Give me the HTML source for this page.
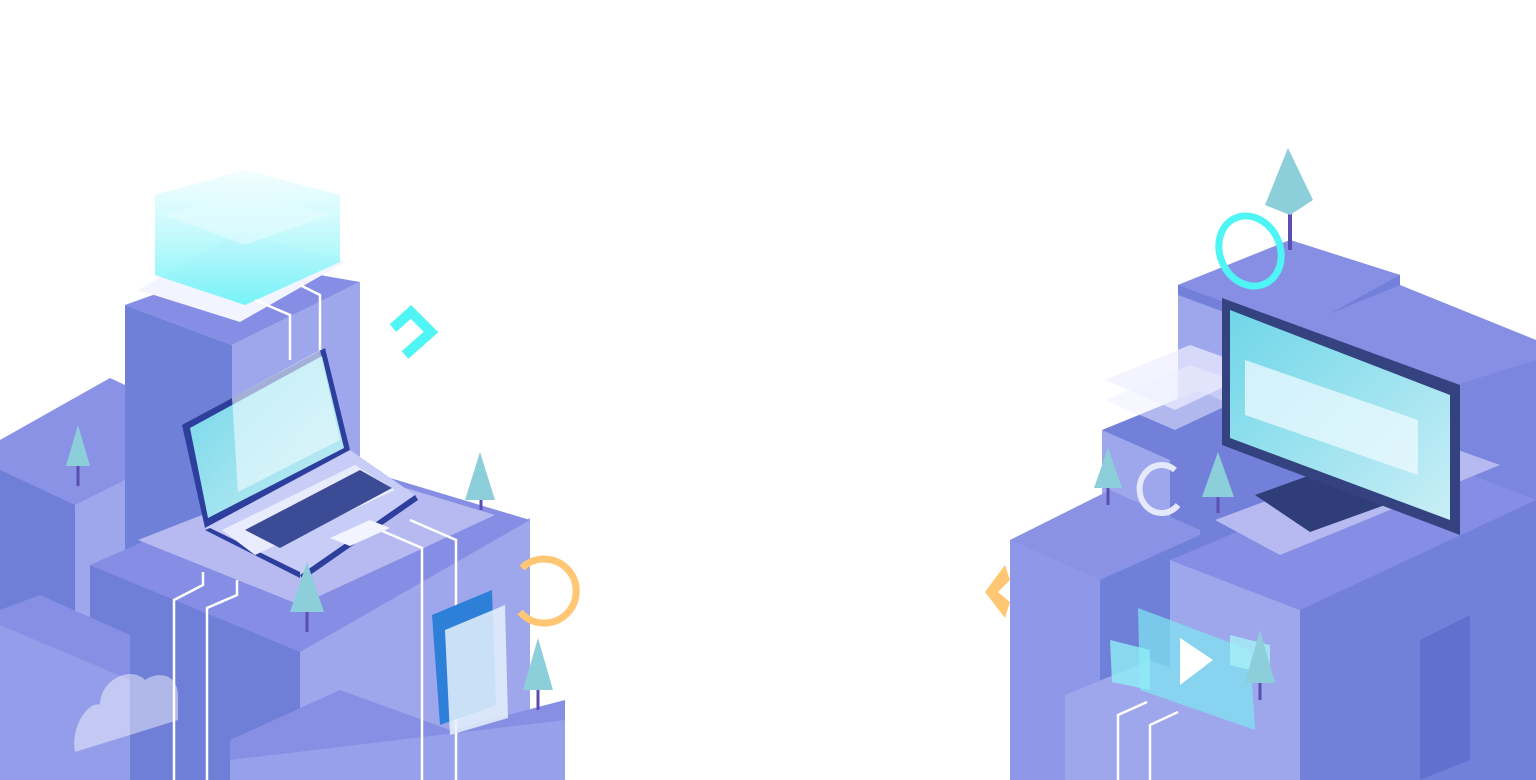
<!DOCTYPE html>
<html><head><meta charset="utf-8"><style>html,body{margin:0;padding:0;background:#fff;width:1536px;height:780px;overflow:hidden}svg{display:block}</style></head>
<body>
<svg width="1536" height="780" viewBox="0 0 1536 780" xmlns="http://www.w3.org/2000/svg">
<defs>
<linearGradient id="cy" x1="0" y1="0" x2="0" y2="1"><stop offset="0" stop-color="#e8fbff" stop-opacity=".6"/><stop offset="1" stop-color="#5ff3f6"/></linearGradient>
<linearGradient id="scr" x1="0" y1="0" x2="1" y2="1"><stop offset="0" stop-color="#6fd6e8"/><stop offset="1" stop-color="#c9eef6"/></linearGradient>
</defs>
<!-- LEFT CLUSTER -->
<polygon points="0,440 110,378 125,385 125,780 0,780" fill="#8a92e6"/>
<polygon points="0,470 75,505 75,780 0,780" fill="#6f7fd8"/>
<polygon points="75,505 125,480 125,780 75,780" fill="#9ea6ec"/>
<polygon points="125,305 232,345 232,780 125,780" fill="#6f80d8"/>
<polygon points="232,345 360,282 360,780 232,780" fill="#9ea6ec"/>
<polygon points="125,305 245,262 360,282 232,345" fill="#858ee4"/>
<polygon points="138,290 240,322 345,262 240,232" fill="#f2f4ff"/>
<polygon points="155,195 245,170 340,195 340,262 245,305 155,275" fill="url(#cy)" opacity=".85"/>
<polygon points="165,215 245,190 330,215 245,245" fill="#e6fbff" opacity=".6"/>
<!-- platform -->
<polygon points="90,565 300,650 300,780 90,780" fill="#6f7fd8"/>
<polygon points="300,650 530,518 530,780 300,780" fill="#9ea6ec"/>
<polygon points="90,565 330,460 530,520 300,652" fill="#858ee4"/>
<polygon points="138,540 330,465 495,515 300,605" fill="#b6baf0"/>
<polygon points="0,610 40,595 130,635 130,780 0,780" fill="#868fe4"/>
<polygon points="0,625 130,680 130,780 0,780" fill="#9ea6ec" opacity=".6"/>
<polygon points="230,740 340,690 450,730 565,700 565,780 230,780" fill="#868fe4"/>
<polygon points="230,760 565,720 565,780 230,780" fill="#9ea6ec" opacity=".7"/>
<path d="M75,752 C70,725 90,700 100,705 C100,680 130,665 145,680 C160,670 180,675 178,700 L178,720 Z" fill="#fff" opacity=".45"/>
<g stroke="#fff" stroke-width="2.5" fill="none">
<polyline points="174,780 174,600 203,585 203,572"/>
<polyline points="207,780 207,608 237,595 237,580"/>
<polyline points="422,780 422,548 380,530"/>
<polyline points="456,780 456,540 410,520"/>
<polyline points="290,360 290,315 255,300"/>
<polyline points="320,350 320,295 300,285"/>
</g>
<!-- laptop -->
<polygon points="182,425 325,348 350,450 205,528" fill="#2d3e9c"/>
<polygon points="190,428 322,356 344,448 208,518" fill="url(#scr)"/>
<polygon points="232,398 320,350 340,440 238,492" fill="#f2fbff" opacity=".6"/>
<polygon points="205,528 350,450 415,495 300,575" fill="#c7cdf7"/>
<polygon points="205,530 300,578 300,572 210,528" fill="#2d3e9c"/>
<polygon points="300,575 415,495 418,500 303,580" fill="#2d3e9c"/>
<polygon points="222,530 355,465 395,490 255,555" fill="#e9ecfd"/>
<polygon points="245,530 360,470 392,488 280,548" fill="#3b4b96"/>
<polygon points="330,538 370,520 390,528 350,546" fill="#f2f4ff"/>
<!-- tablet -->
<polygon points="432,615 492,590 496,705 440,725" fill="#2e7fd8"/>
<polygon points="445,630 505,605 508,718 450,735" fill="#e4f1fb" opacity=".85"/>
<path d="M522,568 A32,32 0 1 1 520,612" stroke="#ffc774" stroke-width="7" fill="none"/>
<polyline points="393,328 411,312 431,332 405,355" stroke="#4ff4f4" stroke-width="10" fill="none"/>
<g>
<line x1="78" y1="466" x2="78" y2="486" stroke="#5a4fb0" stroke-width="3"/><polygon points="78,425 66,466 90,466" fill="#8ccfdb"/>
<line x1="307" y1="610" x2="307" y2="632" stroke="#5a4fb0" stroke-width="3"/><polygon points="307,562 290,612 324,612" fill="#8ccfdb"/>
<line x1="481" y1="498" x2="481" y2="510" stroke="#5a4fb0" stroke-width="3"/><polygon points="480,452 465,500 495,500" fill="#8ccfdb"/>
<line x1="538" y1="688" x2="538" y2="710" stroke="#5a4fb0" stroke-width="3"/><polygon points="538,638 523,690 553,690" fill="#8ccfdb"/>
</g>
<!-- RIGHT CLUSTER -->
<polygon points="1178,285 1290,240 1400,275 1400,780 1178,780" fill="#7280da"/>
<polygon points="1178,285 1290,240 1400,275 1300,330" fill="#878fe4"/>
<polygon points="1178,295 1300,340 1300,420 1178,420" fill="#9ea6ec"/>
<polygon points="1400,300 1536,345 1536,780 1400,780" fill="#7b86de"/>
<polygon points="1290,330 1400,285 1536,340 1536,360 1440,390" fill="#878fe4"/>
<polygon points="1102,430 1200,390 1240,410 1240,780 1102,780" fill="#7280da"/>
<polygon points="1102,430 1170,460 1170,520 1102,520" fill="#9ea6ec"/>
<polygon points="1010,540 1110,490 1200,530 1200,780 1010,780" fill="#8a92e6"/>
<polygon points="1010,540 1100,580 1100,780 1010,780" fill="#8f98e8"/>
<polygon points="1100,580 1200,535 1200,780 1100,780" fill="#6f80d8"/>
<polygon points="1170,560 1420,455 1536,500 1536,780 1170,780" fill="#7280da"/>
<polygon points="1170,560 1300,610 1300,780 1170,780" fill="#9ea6ec"/>
<polygon points="1170,560 1420,455 1536,500 1300,610" fill="#858ee4"/>
<polygon points="1215,520 1430,440 1500,465 1280,555" fill="#b6baf0"/>
<polygon points="1420,640 1470,615 1470,760 1420,780" fill="#6170cf"/>
<polygon points="1065,695 1150,660 1250,700 1250,780 1065,780" fill="#9ea6ec"/>
<polygon points="1105,380 1190,345 1260,370 1175,410" fill="#eef0ff" opacity=".7"/>
<polygon points="1105,400 1190,365 1260,390 1175,430" fill="#eef0ff" opacity=".5"/>
<!-- monitor -->
<polygon points="1255,495 1330,468 1385,505 1310,532" fill="#2f3d78"/>
<polygon points="1222,298 1460,385 1460,535 1222,445" fill="#34437f"/>
<polygon points="1230,310 1450,395 1450,520 1230,438" fill="url(#scr)"/>
<polygon points="1245,360 1418,420 1418,475 1245,415" fill="#eefaff" opacity=".75"/>
<!-- video card -->
<polygon points="1138,608 1250,650 1255,730 1140,690" fill="#7fe8f2" opacity=".7"/>
<polygon points="1110,640 1150,650 1150,690 1112,682" fill="#90eef5" opacity=".8"/>
<polygon points="1180,638 1213,660 1180,685" fill="#fff"/>
<polygon points="1230,635 1270,645 1270,675 1230,665" fill="#a6f0f6" opacity=".8"/>
<g stroke="#fff" stroke-width="2.5" fill="none">
<polyline points="1118,780 1118,715 1147,702"/>
<polyline points="1150,780 1150,725 1178,712"/>
</g>
<ellipse cx="1250" cy="251" rx="30" ry="36" transform="rotate(-25 1250 251)" stroke="#4ff4f4" stroke-width="7" fill="none"/>
<path d="M1175,470 A22,24 0 1 0 1178,505" stroke="#e6e8fb" stroke-width="6" fill="none"/>
<polygon points="1005,565 985,592 1005,618 1010,602 998,592 1010,580" fill="#ffc774"/>
<line x1="1290" y1="205" x2="1290" y2="250" stroke="#5a4fb0" stroke-width="4"/><polygon points="1288,148 1265,205 1290,215 1313,200" fill="#8ccfdb"/>
<line x1="1108" y1="486" x2="1108" y2="505" stroke="#5a4fb0" stroke-width="3"/><polygon points="1108,448 1094,488 1122,488" fill="#8ccfdb"/>
<line x1="1218" y1="495" x2="1218" y2="513" stroke="#5a4fb0" stroke-width="3"/><polygon points="1218,452 1202,497 1234,497" fill="#8ccfdb"/>
<line x1="1260" y1="681" x2="1260" y2="700" stroke="#5a4fb0" stroke-width="3"/><polygon points="1260,630 1245,683 1275,683" fill="#8ccfdb"/>
</svg>
</body></html>
